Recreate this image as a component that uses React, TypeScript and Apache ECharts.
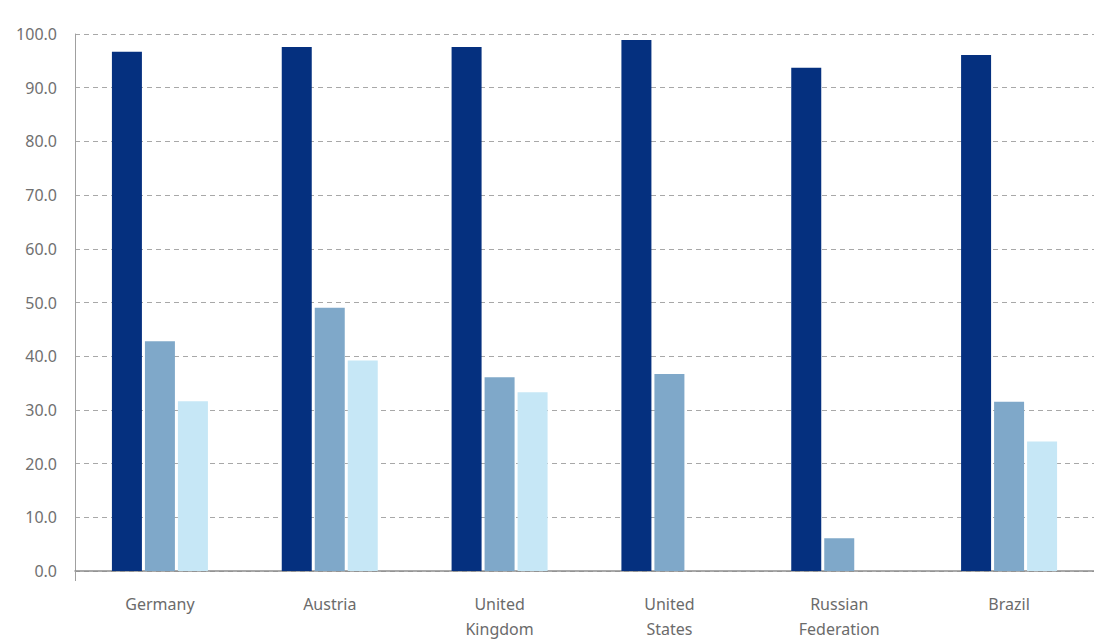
import React, { useEffect, useRef } from "react";
import * as echarts from "echarts";

// Countries along the category axis
const countries = [
  "Germany",
  "Austria",
  "United\nKingdom",
  "United\nStates",
  "Russian\nFederation",
  "Brazil",
];

// Three indicator series per country (percent)
const seriesA = [96.7, 97.6, 97.6, 98.9, 93.7, 96.1];
const seriesB = [42.8, 49.0, 36.1, 36.7, 6.1, 31.5];
const seriesC = [31.6, 39.2, 33.3, null, null, 24.1];

const seriesNames = ["Series A", "Series B", "Series C"];
const seriesColors = ["#05307f", "#7fa8c9", "#c6e7f6"];

const yTicks = { min: 0, max: 100, interval: 10 };

export default function App() {
  const ref = useRef<HTMLDivElement>(null);

  useEffect(() => {
    if (!ref.current) return;
    const chart = echarts.init(ref.current, null, { renderer: "svg" });
    const values = [seriesA, seriesB, seriesC];
    chart.setOption({
      animation: false,
      backgroundColor: "#ffffff",
      grid: { left: 75, top: 34, width: 1029, height: 544, containLabel: false },
      xAxis: {
        type: "category",
        data: countries,
        axisLine: { show: true, lineStyle: { color: "#8c8c8c", width: 1.5 } },
        // only the left-most boundary tick, continuing the value axis downward
        axisTick: {
          show: true,
          interval: (index: number) => index === 0,
          length: 10,
          lineStyle: { color: "#a0a0a0", width: 1 },
        },
        axisLabel: {
          color: "#6b6b6b",
          fontFamily: "Noto Sans",
          fontSize: 16,
          lineHeight: 25,
          margin: 20,
          interval: 0,
        },
      },
      yAxis: {
        type: "value",
        min: yTicks.min,
        max: yTicks.max,
        interval: yTicks.interval,
        axisLine: { show: true, lineStyle: { color: "#a0a0a0", width: 1 } },
        axisTick: { show: false },
        axisLabel: {
          color: "#707070",
          fontFamily: "Noto Sans",
          fontSize: 16,
          margin: 18,
          padding: [0, 0, 12, 0],
          formatter: (v: number) => v.toFixed(1),
        },
        splitLine: {
          show: true,
          lineStyle: { color: "#a8a8a8", type: [5, 4], width: 1 },
        },
      },
      series: values.map((d, i) => ({
        name: seriesNames[i],
        type: "bar",
        data: d,
        barWidth: 30,
        barGap: "10%",
        itemStyle: { color: seriesColors[i] },
      })),
    });
    return () => chart.dispose();
  }, []);

  return (
    <div
      ref={ref}
      style={{ position: "fixed", left: 0, top: 0, width: 1094, height: 641 }}
    />
  );
}
